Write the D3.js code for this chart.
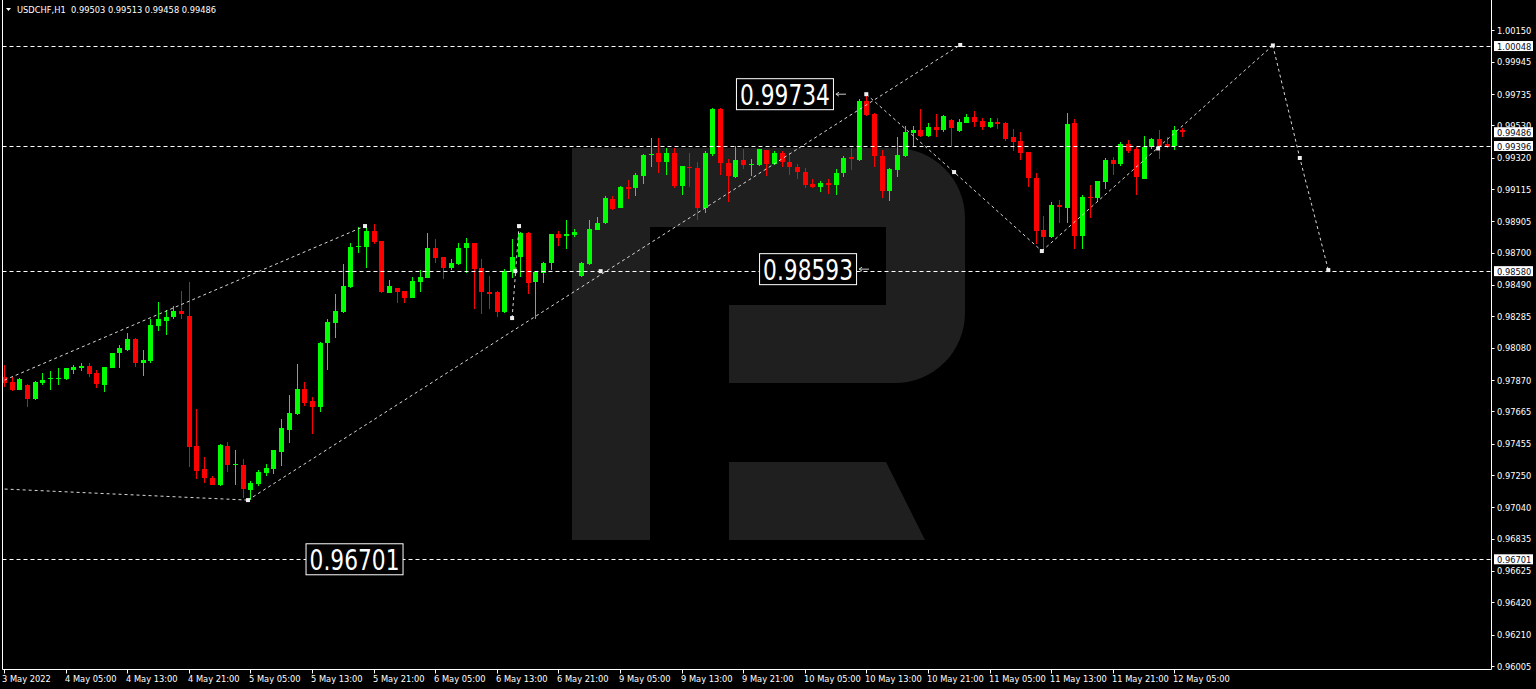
<!DOCTYPE html>
<html>
<head>
<meta charset="utf-8">
<script src="https://cdn.jsdelivr.net/npm/d3@7/dist/d3.min.js"></script>
<style>
html, body { margin: 0; padding: 0; background: #000; overflow: hidden; }
svg { display: block; }
text { font-family: "DejaVu Sans", sans-serif; }
</style>
</head>
<body>
<div id="chart"></div>
<script>
// USDCHF H1, first bar = 3 May 2022 21:00
var width = 1536, height = 689;

var barOpen = [0.97891,0.97859,0.97807,0.97837,0.97744,0.97849,0.97875,0.97879,0.97875,0.97935,
  0.97946,0.97963,0.97914,0.97837,0.97950,0.98048,0.98066,0.98137,0.97983,0.97994,
  0.98222,0.98257,0.98279,0.98318,0.98290,0.97440,0.97288,0.97233,0.97185,0.97442,
  0.97314,0.97316,0.97153,0.97190,0.97261,0.97292,0.97400,0.97544,0.97648,0.97809,
  0.97731,0.97696,0.98109,0.98244,0.98314,0.98478,0.98737,0.98739,0.98842,0.98774,
  0.98439,0.98472,0.98450,0.98403,0.98511,0.98533,0.98729,0.98670,0.98598,0.98626,
  0.98729,0.98761,0.98598,0.98446,0.98442,0.98315,0.98576,0.98670,0.98827,0.98507,
  0.98570,0.98631,0.98822,0.98811,0.98816,0.98548,0.98626,0.98850,0.98892,0.99050,
  0.98994,0.99127,0.99120,0.99202,0.99335,0.99352,0.99294,0.99352,0.99135,0.99261,
  0.99254,0.98994,0.99344,0.99639,0.99283,0.99196,0.99305,0.99270,0.99270,0.99370,
  0.99279,0.99352,0.99294,0.99261,0.99228,0.99148,0.99131,0.99153,0.99142,0.99218,
  0.99324,0.99305,0.99689,0.99605,0.99331,0.99102,0.99239,0.99331,0.99479,0.99500,
  0.99463,0.99518,0.99500,0.99565,0.99494,0.99548,0.99583,0.99561,0.99522,0.99555,
  0.99548,0.99453,0.99430,0.99359,0.99185,0.98848,0.98800,0.99011,0.98994,0.99548,
  0.98811,0.99065,0.99055,0.99163,0.99305,0.99276,0.99407,0.99376,0.99178,0.99391,
  0.99442,0.99407,0.99396,0.99503];
var barHigh = [0.97968,0.97888,0.97881,0.97844,0.97865,0.97914,0.97929,0.97946,0.97950,0.97968,
  0.97983,0.97979,0.97935,0.97957,0.98048,0.98096,0.98174,0.98146,0.98066,0.98266,
  0.98381,0.98326,0.98353,0.98448,0.98511,0.97681,0.97366,0.97244,0.97453,0.97468,
  0.97414,0.97355,0.97214,0.97283,0.97322,0.97414,0.97614,0.97772,0.97974,0.97857,
  0.97757,0.98120,0.98268,0.98429,0.98626,0.98765,0.98866,0.98881,0.98888,0.98776,
  0.98522,0.98472,0.98450,0.98544,0.98587,0.98827,0.98790,0.98670,0.98659,0.98761,
  0.98798,0.98763,0.98659,0.98548,0.98452,0.98592,0.98788,0.98837,0.98837,0.98580,
  0.98640,0.98825,0.98844,0.98913,0.98855,0.98640,0.98913,0.98935,0.99070,0.99070,
  0.99135,0.99174,0.99218,0.99344,0.99446,0.99446,0.99381,0.99381,0.99268,0.99352,
  0.99294,0.99365,0.99646,0.99646,0.99311,0.99396,0.99374,0.99311,0.99378,0.99372,
  0.99361,0.99361,0.99352,0.99276,0.99250,0.99178,0.99168,0.99178,0.99244,0.99331,
  0.99381,0.99700,0.99734,0.99613,0.99370,0.99250,0.99453,0.99526,0.99526,0.99635,
  0.99544,0.99605,0.99596,0.99570,0.99570,0.99605,0.99626,0.99576,0.99576,0.99576,
  0.99550,0.99505,0.99489,0.99359,0.99218,0.98939,0.99033,0.99044,0.99609,0.99570,
  0.99076,0.99142,0.99168,0.99316,0.99322,0.99424,0.99435,0.99391,0.99461,0.99446,
  0.99500,0.99457,0.99526,0.99513];
var barLow = [0.97824,0.97800,0.97805,0.97696,0.97740,0.97837,0.97805,0.97837,0.97870,0.97909,
  0.97931,0.97891,0.97820,0.97794,0.97946,0.97950,0.98059,0.97957,0.97896,0.97983,
  0.98189,0.98163,0.98270,0.98266,0.97305,0.97222,0.97196,0.97185,0.97182,0.97272,
  0.97185,0.97102,0.97087,0.97179,0.97244,0.97257,0.97309,0.97461,0.97642,0.97702,
  0.97518,0.97663,0.97935,0.98146,0.98309,0.98472,0.98696,0.98598,0.98755,0.98437,
  0.98437,0.98374,0.98374,0.98403,0.98442,0.98533,0.98635,0.98529,0.98587,0.98620,
  0.98566,0.98331,0.98298,0.98331,0.98283,0.98309,0.98535,0.98544,0.98431,0.98266,
  0.98501,0.98587,0.98744,0.98722,0.98805,0.98544,0.98620,0.98850,0.98887,0.98979,
  0.98990,0.99050,0.99070,0.99148,0.99257,0.99218,0.99207,0.99120,0.99076,0.99131,
  0.98913,0.98957,0.99331,0.99207,0.99033,0.99185,0.99244,0.99200,0.99265,0.99200,
  0.99272,0.99261,0.99207,0.99178,0.99120,0.99120,0.99098,0.99081,0.99076,0.99192,
  0.99239,0.99300,0.99592,0.99261,0.99059,0.99039,0.99196,0.99322,0.99391,0.99453,
  0.99453,0.99457,0.99489,0.99396,0.99485,0.99544,0.99518,0.99500,0.99511,0.99505,
  0.99430,0.99365,0.99305,0.99131,0.98757,0.98713,0.98794,0.98896,0.98896,0.98724,
  0.98724,0.98928,0.99033,0.99113,0.99207,0.99268,0.99348,0.99076,0.99178,0.99374,
  0.99309,0.99381,0.99370,0.99458];
var barClose = [0.97852,0.97805,0.97876,0.97746,0.97855,0.97870,0.97885,0.97885,0.97946,0.97953,
  0.97963,0.97909,0.97844,0.97957,0.98044,0.98081,0.98137,0.97983,0.98000,0.98229,
  0.98270,0.98283,0.98322,0.98298,0.97431,0.97279,0.97231,0.97185,0.97444,0.97316,
  0.97324,0.97161,0.97199,0.97268,0.97298,0.97412,0.97555,0.97655,0.97809,0.97718,
  0.97696,0.98113,0.98246,0.98320,0.98483,0.98735,0.98746,0.98842,0.98768,0.98442,
  0.98483,0.98442,0.98403,0.98516,0.98544,0.98729,0.98668,0.98598,0.98631,0.98729,
  0.98761,0.98592,0.98442,0.98431,0.98315,0.98583,0.98670,0.98827,0.98504,0.98576,
  0.98635,0.98822,0.98794,0.98822,0.98837,0.98635,0.98855,0.98896,0.99055,0.98983,
  0.99127,0.99117,0.99207,0.99337,0.99344,0.99294,0.99352,0.99135,0.99265,0.99250,
  0.98994,0.99352,0.99639,0.99283,0.99202,0.99305,0.99272,0.99276,0.99374,0.99279,
  0.99352,0.99294,0.99261,0.99228,0.99142,0.99127,0.99157,0.99142,0.99218,0.99320,
  0.99309,0.99689,0.99598,0.99331,0.99102,0.99244,0.99337,0.99489,0.99500,0.99463,
  0.99518,0.99500,0.99592,0.99511,0.99555,0.99583,0.99555,0.99522,0.99555,0.99539,
  0.99440,0.99424,0.99352,0.99185,0.98844,0.98800,0.99011,0.98996,0.99539,0.98811,
  0.99065,0.99055,0.99168,0.99305,0.99279,0.99407,0.99365,0.99196,0.99391,0.99442,
  0.99391,0.99391,0.99500,0.99486];

// time axis: one label every 8 bars
var timeLabels = ["3 May 2022","4 May 05:00","4 May 13:00","4 May 21:00","5 May 05:00","5 May 13:00",
  "5 May 21:00","6 May 05:00","6 May 13:00","6 May 21:00","9 May 05:00","9 May 13:00","9 May 21:00",
  "10 May 05:00","10 May 13:00","10 May 21:00","11 May 05:00","11 May 13:00","11 May 21:00","12 May 05:00"];
var priceTicks = [1.00150,0.99945,0.99735,0.99530,0.99320,0.99115,0.98905,0.98700,0.98490,0.98285,
  0.98080,0.97870,0.97665,0.97455,0.97250,0.97040,0.96835,0.96625,0.96420,0.96210,0.96005];

// horizontal levels and right-axis boxes
var levelPrices = [1.00048, 0.99396, 0.98580, 0.96701];
var lastPrice = 0.99486;

// big level captions: [anchor bar (right edge), price]
var captionText = ["0.99734", "0.98593", "0.96701"];
var captionBar = [107.8, 110.8, 51.9];
var captionPrice = [0.99734, 0.98593, 0.96701];

// dashed trend / forecast lines, points as [bar, price]
var trendLines = [
  [[0.1, 0.97870], [46.9, 0.98874]],
  [[0.1, 0.97159], [31.7, 0.97087]],
  [[31.7, 0.97087], [124.2, 1.00055]],
  [[66.0, 0.98274], [66.9, 0.98874]],
  [[112.0, 0.99734], [123.4, 0.99226], [134.8, 0.98711]],
  [[134.8, 0.98711], [164.8, 1.00052]],
  [[164.8, 1.00052], [168.3, 0.99318], [172.0, 0.98587]]
];
var markerPts = [[31.7, 0.97087], [46.9, 0.98874], [66.0, 0.98274], [66.4, 0.98580], [66.9, 0.98874],
  [77.5, 0.98580], [124.2, 1.00055], [112.0, 0.99734], [123.4, 0.99226], [134.8, 0.98711],
  [149.9, 0.99380], [164.8, 1.00052], [168.3, 0.99318], [172.0, 0.98587]];

var plotLeft = 2.5, plotRight = 1491.5, plotBottom = 669.5;

var svg = d3.select("#chart").append("svg")
    .attr("width", width)
    .attr("height", height);

svg.append("rect").attr("width", width).attr("height", height).attr("fill", "#000");

var x = d3.scaleLinear().domain([0, 193]).range([3.9, 3.9 + 193 * 7.70]);
var y = d3.scaleLinear().domain([0.96005, 1.00150]).range([666, 30.4]);

// watermark
svg.append("path")
    .attr("d", "M572,148 H895 A70,70 0 0 1 965,218 V313 A70,70 0 0 1 895,383 H729 V305 H886 V227 H650 V540 H572 Z")
    .attr("fill", "#1f1f1f");
svg.append("path")
    .attr("d", "M729,462 H886 L925,540 H729 Z")
    .attr("fill", "#1f1f1f");

var plot = svg.append("g");

// candles
var idx = d3.range(barOpen.length);
var candle = plot.selectAll(".candle")
    .data(idx)
    .enter().append("g")
    .attr("class", "candle")
    .attr("shape-rendering", "crispEdges");

function candleColor(i) { return barClose[i] >= barOpen[i] ? "#00ff00" : "#ff0000"; }

candle.append("rect")
    .attr("x", function (i) { return Math.round(x(i)); })
    .attr("width", 1)
    .attr("y", function (i) { return Math.round(y(barHigh[i])); })
    .attr("height", function (i) { return Math.max(1, Math.round(y(barLow[i])) - Math.round(y(barHigh[i]))); })
    .attr("fill", candleColor);

candle.append("rect")
    .attr("x", function (i) { return Math.round(x(i)) - 2; })
    .attr("width", 5)
    .attr("y", function (i) { return Math.round(y(Math.max(barOpen[i], barClose[i]))); })
    .attr("height", function (i) {
        return Math.max(1, Math.round(y(Math.min(barOpen[i], barClose[i]))) - Math.round(y(Math.max(barOpen[i], barClose[i]))));
    })
    .attr("fill", candleColor);

// horizontal levels
plot.selectAll(".level")
    .data(levelPrices)
    .enter().append("line")
    .attr("class", "level")
    .attr("x1", plotLeft).attr("x2", plotRight)
    .attr("y1", function (d) { return Math.round(y(d)) + 0.5; })
    .attr("y2", function (d) { return Math.round(y(d)) + 0.5; })
    .attr("stroke", "#fff")
    .attr("stroke-width", 1)
    .attr("stroke-dasharray", "4,3");

// trend lines
var line = d3.line()
    .x(function (d) { return x(d[0]); })
    .y(function (d) { return y(d[1]); });

plot.selectAll(".trend")
    .data(trendLines)
    .enter().append("path")
    .attr("class", "trend")
    .attr("d", line)
    .attr("fill", "none")
    .attr("stroke", "#d8d8d8")
    .attr("stroke-width", 1)
    .attr("stroke-dasharray", "3,3");

plot.selectAll(".marker")
    .data(markerPts)
    .enter().append("rect")
    .attr("class", "marker")
    .attr("x", function (d) { return x(d[0]) - 2; })
    .attr("y", function (d) { return y(d[1]) - 2; })
    .attr("width", 4).attr("height", 4)
    .attr("fill", "#eee");

// captions
var cap = plot.selectAll(".caption")
    .data(captionText)
    .enter().append("g")
    .attr("class", "caption")
    .attr("transform", function (d, i) {
        return "translate(" + x(captionBar[i]) + "," + y(captionPrice[i]) + ")";
    });

cap.append("rect")
    .attr("x", -97.5).attr("y", -15.5)
    .attr("width", 97).attr("height", 31)
    .attr("fill", "#000")
    .attr("stroke", "#fff")
    .attr("stroke-width", 1);

cap.append("text")
    .attr("x", -49).attr("y", 10.5)
    .attr("text-anchor", "middle")
    .attr("fill", "#fff")
    .attr("font-size", 29)
    .attr("textLength", 90)
    .attr("lengthAdjust", "spacingAndGlyphs")
    .text(function (d) { return d; });

// small arrows next to the first two captions
cap.filter(function (d, i) { return i < 2; }).append("path")
    .attr("d", "M2,0 H12 M2,0 l3,-2 M2,0 l3,2")
    .attr("stroke", "#ccc")
    .attr("fill", "none");

// frame
var frame = svg.append("g").attr("stroke", "#fff").attr("stroke-width", 1).attr("fill", "none");
frame.append("line").attr("x1", plotLeft).attr("x2", plotLeft).attr("y1", 0).attr("y2", plotBottom);
frame.append("line").attr("x1", plotLeft).attr("x2", plotRight).attr("y1", plotBottom).attr("y2", plotBottom);
frame.append("line").attr("x1", plotRight).attr("x2", plotRight).attr("y1", 0).attr("y2", plotBottom);

// right price axis
var yAxis = svg.append("g");
yAxis.selectAll(".ptick")
    .data(priceTicks)
    .enter().append("line")
    .attr("x1", plotRight).attr("x2", plotRight + 3)
    .attr("y1", function (d) { return Math.round(y(d)) + 0.5; })
    .attr("y2", function (d) { return Math.round(y(d)) + 0.5; })
    .attr("stroke", "#fff");
yAxis.selectAll(".plabel")
    .data(priceTicks)
    .enter().append("text")
    .attr("x", plotRight + 5.5)
    .attr("y", function (d) { return y(d) + 3.5; })
    .attr("fill", "#fff")
    .attr("font-size", 8.3)
    .text(function (d) { return d.toFixed(5); });

var boxes = levelPrices.concat([lastPrice]);
var box = yAxis.selectAll(".pbox")
    .data(boxes)
    .enter().append("g")
    .attr("transform", function (d) { return "translate(" + (plotRight + 2) + "," + y(d) + ")"; });
box.append("rect")
    .attr("x", 0.5).attr("y", -5).attr("width", 39).attr("height", 10)
    .attr("fill", "#fff");
box.append("text")
    .attr("x", 3.5).attr("y", 3.5)
    .attr("fill", "#0a0a20")
    .attr("font-size", 8.3)
    .text(function (d) { return d.toFixed(5); });

// bottom time axis
var xAxis = svg.append("g");
var tickBars = timeLabels.map(function (d, i) { return i * 8; });
xAxis.selectAll(".ttick")
    .data(tickBars)
    .enter().append("line")
    .attr("x1", function (d) { return Math.round(x(d)) + 0.5; })
    .attr("x2", function (d) { return Math.round(x(d)) + 0.5; })
    .attr("y1", plotBottom).attr("y2", plotBottom + 4)
    .attr("stroke", "#fff");
xAxis.selectAll(".tlabel")
    .data(timeLabels)
    .enter().append("text")
    .attr("x", function (d, i) { return i === 0 ? 2 : Math.round(x(tickBars[i])) - 1; })
    .attr("y", 681.5)
    .attr("fill", "#fff")
    .attr("font-size", 8.3)
    .text(function (d) { return d; });

// title
svg.append("path").attr("d", "M6,8 H11 L8.5,11 Z").attr("fill", "#fff");
svg.append("text")
    .attr("x", 17).attr("y", 13)
    .attr("fill", "#fff")
    .attr("font-size", 8.3)
    .attr("xml:space", "preserve")
    .text("USDCHF,H1  " + [barOpen[153], barHigh[153], barLow[153], barClose[153]].map(function (v) { return v.toFixed(5); }).join(" "));
</script>
</body>
</html>
